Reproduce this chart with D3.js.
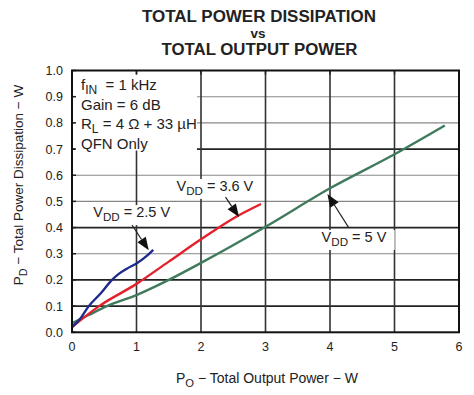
<!DOCTYPE html>
<html>
<head>
<meta charset="utf-8">
<script src="https://cdnjs.cloudflare.com/ajax/libs/d3/7.8.5/d3.min.js"></script>
<style>
  body { margin: 0; background: #fff; }
  svg text { font-family: "Liberation Sans", Arial, sans-serif; fill: #222; }
</style>
</head>
<body>
<svg id="chart" width="474" height="395"></svg>
<script>
// series: [Po (W), Pd (W)]
var vdd25 = [[0, 0.02], [0.12, 0.05], [0.26, 0.10], [0.45, 0.15], [0.62, 0.20], [0.72, 0.222],
    [0.85, 0.243], [1.0, 0.263], [1.15, 0.29], [1.26, 0.315]];
var vdd36 = [[0, 0.02], [0.42, 0.10], [1.0, 0.185], [1.5, 0.27], [2.0, 0.355],
    [2.5, 0.435], [2.93, 0.49]];
var vdd5 = [[0, 0.035], [0.25, 0.065], [0.54, 0.10], [1.0, 0.142], [1.5, 0.20], [2.0, 0.265],
    [3.0, 0.403], [4.0, 0.55], [5.0, 0.68], [5.78, 0.79]];

var xTicks = [0, 1, 2, 3, 4, 5, 6];
var yTicks = [0, 0.1, 0.2, 0.3, 0.4, 0.5, 0.6, 0.7, 0.8, 0.9, 1.0];
var darkRows = [0.1, 0.2, 0.4, 0.7];

var conditions = ["f|IN|  = 1 kHz", "Gain = 6 dB", "R|L| = 4 \u03A9 + 33 \u00B5H", "QFN Only"];

// label text, label position [x, y], arrow from [x, y] to tip [x, y] (data units)
var labels = [
    {text: "V|DD| = 2.5 V", at: [0.33, 0.44], from: [0.93, 0.41], to: [1.19, 0.313], padL: 3, padR: 3},
    {text: "V|DD| = 3.6 V", at: [1.62, 0.54], from: [2.38, 0.516], to: [2.59, 0.44], padL: 1, padR: 1},
    {text: "V|DD| = 5 V", at: [3.87, 0.345], from: [4.29, 0.40], to: [3.96, 0.528], padL: 5, padR: 8}
];

var svg = d3.select("#chart"),
    margin = {top: 70.5, right: 15, bottom: 62.7, left: 72},
    width = +svg.attr("width") - margin.left - margin.right,
    height = +svg.attr("height") - margin.top - margin.bottom;

var x = d3.scaleLinear().domain([0, 6]).range([0, width]),
    y = d3.scaleLinear().domain([0, 1]).range([height, 0]);

var g = svg.append("g")
    .attr("transform", "translate(" + margin.left + "," + margin.top + ")");

// title
var title = svg.append("g").attr("font-weight", "bold").attr("text-anchor", "middle");
title.append("text").attr("x", 259).attr("y", 22).attr("font-size", 16)
    .attr("textLength", 234).attr("lengthAdjust", "spacingAndGlyphs").text("TOTAL POWER DISSIPATION");
title.append("text").attr("x", 258).attr("y", 38).attr("font-size", 13.5).text("vs");
title.append("text").attr("x", 259.5).attr("y", 55).attr("font-size", 16)
    .attr("textLength", 196).attr("lengthAdjust", "spacingAndGlyphs").text("TOTAL OUTPUT POWER");

// grid
g.selectAll(".hgrid")
    .data(yTicks.slice(1, -1))
    .enter().append("line")
    .attr("x1", 0).attr("x2", width)
    .attr("y1", function (d) { return y(d); })
    .attr("y2", function (d) { return y(d); })
    .attr("stroke", function (d) { return darkRows.indexOf(d) >= 0 ? "#222" : "#888"; })
    .attr("stroke-width", function (d) { return darkRows.indexOf(d) >= 0 ? 1.8 : 1.1; });

g.selectAll(".vgrid")
    .data(xTicks.slice(1, -1))
    .enter().append("line")
    .attr("y1", 0).attr("y2", height)
    .attr("x1", function (d) { return x(d); })
    .attr("x2", function (d) { return x(d); })
    .attr("stroke", "#333")
    .attr("stroke-width", 1.6);

// conditions box
var cond = g.append("g");
cond.append("rect")
    .attr("x", 3).attr("y", 4).attr("width", 122).attr("height", 76)
    .attr("fill", "#fff");

function addRich(sel, str, size) {
    str.split("|").forEach(function (part, i) {
        var t = sel.append("tspan").text(part);
        if (i % 2 === 1) {
            t.attr("font-size", size * 0.8).attr("dy", 4);
        } else if (i > 0) {
            t.attr("dy", -4);
        }
    });
}

conditions.forEach(function (c, i) {
    var t = cond.append("text")
        .attr("x", 9).attr("y", 19.5 + i * 19.7)
        .attr("font-size", 15)
        .attr("xml:space", "preserve");
    addRich(t, c, 15);
});

// inward ticks on the frame
g.selectAll(".ytick")
    .data(yTicks)
    .enter().append("line")
    .attr("x1", 0).attr("x2", 4)
    .attr("y1", function (d) { return y(d); })
    .attr("y2", function (d) { return y(d); })
    .attr("stroke", "#222").attr("stroke-width", 1.5);
g.selectAll(".xtick")
    .data(xTicks)
    .enter().append("line")
    .attr("x1", function (d) { return x(d); })
    .attr("x2", function (d) { return x(d); })
    .attr("y1", 0).attr("y2", 4)
    .attr("stroke", "#222").attr("stroke-width", 1.5);

// curves
var line = d3.line()
    .x(function (d) { return x(d[0]); })
    .y(function (d) { return y(d[1]); })
    .curve(d3.curveMonotoneX);

[[vdd5, "#3f7a5c"], [vdd36, "#e3202b"], [vdd25, "#1f2b8c"]].forEach(function (s) {
    g.append("path")
        .datum(s[0])
        .attr("d", line)
        .attr("fill", "none")
        .attr("stroke", s[1])
        .attr("stroke-width", 2.4)
        .attr("stroke-linejoin", "round");
});

// labels with white backing and arrows
labels.forEach(function (lb) {
    var grp = g.append("g");
    var bg = grp.append("rect").attr("fill", "#fff");
    var t = grp.append("text")
        .attr("x", x(lb.at[0])).attr("y", y(lb.at[1]))
        .attr("font-size", 14.5);
    addRich(t, lb.text, 14.5);
    var bb = t.node().getBBox();
    bg.attr("x", bb.x - lb.padL).attr("y", bb.y + 1)
        .attr("width", bb.width + lb.padL + lb.padR).attr("height", bb.height + 1);

    var x0 = x(lb.from[0]), y0 = y(lb.from[1]),
        x1 = x(lb.to[0]), y1 = y(lb.to[1]);
    var a = Math.atan2(y1 - y0, x1 - x0), len = 13, hw = 5;
    var bx = x1 - len * Math.cos(a), by = y1 - len * Math.sin(a);
    g.append("line")
        .attr("x1", x0).attr("y1", y0).attr("x2", bx).attr("y2", by)
        .attr("stroke", "#222").attr("stroke-width", 1.2);
    g.append("path")
        .attr("d", "M" + x1 + "," + y1 +
            "L" + (bx + hw * Math.sin(a)) + "," + (by - hw * Math.cos(a)) +
            "L" + (bx - hw * Math.sin(a)) + "," + (by + hw * Math.cos(a)) + "Z")
        .attr("fill", "#111");
});

// frame
g.append("rect")
    .attr("width", width).attr("height", height)
    .attr("fill", "none").attr("stroke", "#111").attr("stroke-width", 2);

// tick labels
g.selectAll(".ylab")
    .data(yTicks)
    .enter().append("text")
    .attr("x", -9).attr("y", function (d) { return y(d) + 4.5; })
    .attr("text-anchor", "end")
    .attr("font-size", 12.5)
    .text(function (d) { return d.toFixed(1); });

g.selectAll(".xlab")
    .data(xTicks)
    .enter().append("text")
    .attr("x", function (d) { return x(d); })
    .attr("y", height + 19)
    .attr("text-anchor", "middle")
    .attr("font-size", 12.5)
    .text(function (d) { return d; });

// axis titles
var xt = svg.append("text")
    .attr("x", 267).attr("y", 383)
    .attr("text-anchor", "middle")
    .attr("font-size", 14);
addRich(xt, "P|O| \u2212 Total Output Power \u2212 W", 14);

var yt = svg.append("text")
    .attr("transform", "translate(23,185)rotate(-90)")
    .attr("text-anchor", "middle")
    .attr("font-size", 13.5);
addRich(yt, "P|D| \u2212 Total Power Dissipation \u2212 W", 13.5);
</script>
</body>
</html>
